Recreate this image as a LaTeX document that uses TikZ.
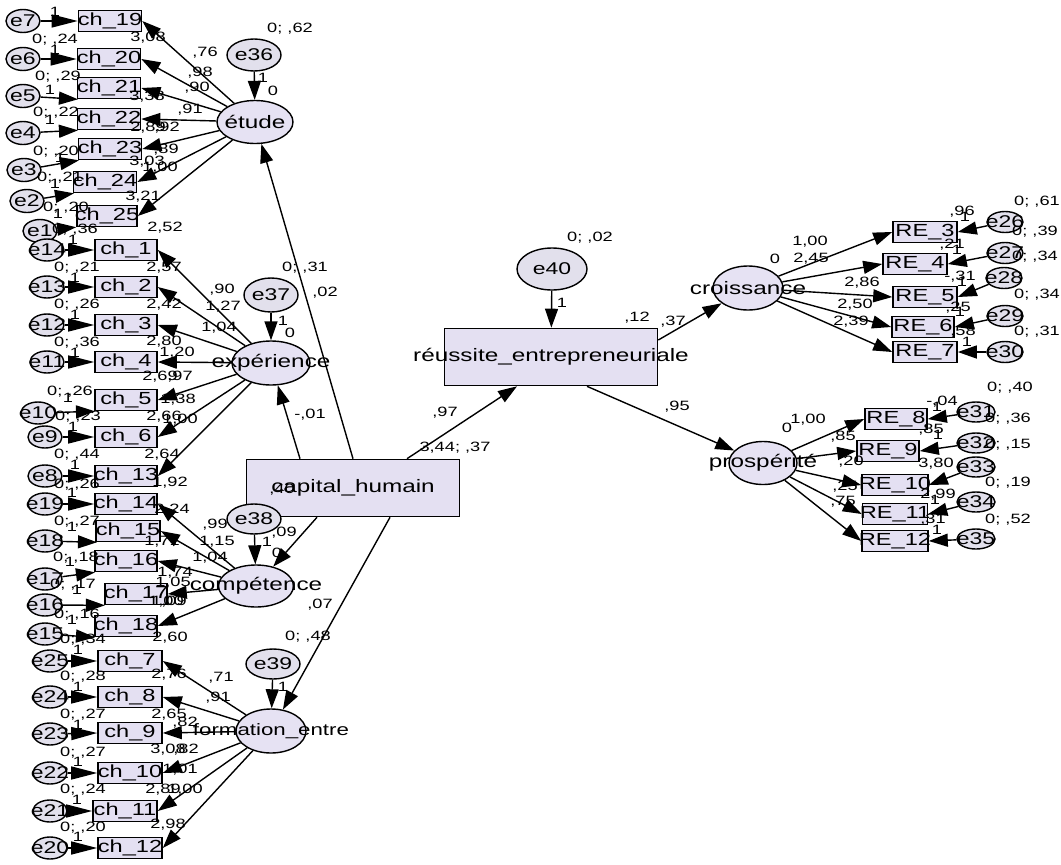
\documentclass[tikz,border=0pt]{standalone}
\usepackage{fontspec}
\setmainfont{Liberation Sans}[FakeStretch=1.35]
\usetikzlibrary{arrows.meta,shapes.geometric}
\definecolor{boxfill}{HTML}{E4E0F2}
\definecolor{latfill}{HTML}{E6E2F3}
\definecolor{errfill}{HTML}{E2E0EC}
\tikzset{
 obs/.style={draw, fill=boxfill, line width=1.6pt, inner sep=0pt, minimum height=21pt},
 lat/.style={draw, ellipse, fill=latfill, line width=1.4pt, inner sep=0pt},
 err/.style={draw, ellipse, fill=errfill, line width=1.4pt, inner sep=0pt},
 big/.style={inner sep=0pt, font=\fontsize{18}{20}\selectfont},
 chf/.style={inner sep=0pt, font=\fontsize{17.5}{19}\selectfont},
 ef/.style={inner sep=0pt, font=\fontsize{17}{18}\selectfont},
 sm/.style={inner sep=0pt, font=\fontsize{13.5}{15}\selectfont},
 arr/.style={line width=1.4pt, -{Triangle[length=19pt,width=13pt]}},
 earr/.style={line width=1.4pt, -{Triangle[length=26pt,width=13pt]}},
}
\newcounter{lbn}
\newcommand\mkobs[5]{\node[obs,minimum width=#4pt] (#1) at (#2,#3) {}; \node[chf] (#1t) at (#1) {#5};}
\newcommand\mklat[6]{\node[lat,minimum width=#4pt,minimum height=#5pt] (#1) at (#2,#3) {}; \node[big] (#1t) at (#1) {#6};}
\newcommand\mkerr[6]{\node[err,minimum width=#4pt,minimum height=#5pt] (#1) at (#2,#3) {}; \node[ef] (#1t) at (#1) {#6};}
\newcommand\mklab[3]{\stepcounter{lbn}\node[sm] (lb\arabic{lbn}) at (#1,#2) {#3};}
\begin{document}
\begin{tikzpicture}[x=1pt,y=-1pt]
\useasboundingbox (0,0) rectangle (1061,865);
\fill[white] (0,0) rectangle (1061,865);

% ---------- observed boxes, left
\mkobs{ch19}{110}{21}{63}{ch\_19}
\mkobs{ch20}{109}{59}{63}{ch\_20}
\mkobs{ch21}{109}{88}{63}{ch\_21}
\mkobs{ch22}{109}{119}{63}{ch\_22}
\mkobs{ch23}{110}{149}{63}{ch\_23}
\mkobs{ch24}{105}{182}{63}{ch\_24}
\mkobs{ch25}{107}{216}{60}{ch\_25}
\mkobs{ch1}{126}{250}{62}{ch\_1}
\mkobs{ch2}{126}{287}{62}{ch\_2}
\mkobs{ch3}{126}{325}{62}{ch\_3}
\mkobs{ch4}{126}{362}{62}{ch\_4}
\mkobs{ch5}{126}{400}{62}{ch\_5}
\mkobs{ch6}{126}{437}{62}{ch\_6}
\mkobs{ch13}{126}{476}{62}{ch\_13}
\mkobs{ch14}{126}{504}{62}{ch\_14}
\mkobs{ch15}{128}{531}{64}{ch\_15}
\mkobs{ch16}{126}{561}{62}{ch\_16}
\mkobs{ch17}{136}{594}{62}{ch\_17}
\mkobs{ch18}{126}{626}{62}{ch\_18}
\mkobs{ch7}{130}{661}{64}{ch\_7}
\mkobs{ch8}{130}{697}{64}{ch\_8}
\mkobs{ch9}{130}{733}{64}{ch\_9}
\mkobs{ch10}{130}{773}{64}{ch\_10}
\mkobs{ch11}{125}{811}{64}{ch\_11}
\mkobs{ch12}{130}{848}{64}{ch\_12}

% ---------- observed boxes, right
\mkobs{re3}{925}{232}{64}{RE\_3}
\mkobs{re4}{915}{264}{64}{RE\_4}
\mkobs{re5}{925}{297}{64}{RE\_5}
\mkobs{re6}{923}{327}{62}{RE\_6}
\mkobs{re7}{925}{352}{64}{RE\_7}
\mkobs{re8}{896}{419}{62}{RE\_8}
\mkobs{re9}{888}{451}{62}{RE\_9}
\mkobs{re10}{895}{485}{66}{RE\_10}
\mkobs{re11}{895}{514}{65}{RE\_11}
\mkobs{re12}{895}{541}{66}{RE\_12}

% ---------- central boxes
\node[obs,minimum width=213pt,minimum height=57pt] (cap) at (353,488) {};
\node[big] (capt) at (cap) {capital\_humain};
\node[obs,minimum width=213pt,minimum height=57pt] (reu) at (551,357) {};
\node[big] (reut) at (reu) {réussite\_entrepreneuriale};

% ---------- latent variables
\mklat{etude}{255}{122}{76}{43}{étude}
\mklat{exp}{271}{363}{78}{44}{expérience}
\mklat{comp}{256}{586}{75}{42}{compétence}
\node[lat,minimum width=70pt,minimum height=44pt] (form) at (271,731) {};
\node[big,font=\fontsize{16.5}{18}\selectfont] (formt) at (form) {formation\_entre};
\mklat{cro}{748}{288}{70}{44}{croissance}
\mklat{pro}{763}{463}{68}{43}{prospérité}

% ---------- big error terms
\mkerr{e36}{254}{55}{54}{32}{e36}
\mkerr{e37}{271}{295}{54}{34}{e37}
\mkerr{e38}{254}{519}{54}{30}{e38}
\mkerr{e39}{273}{664}{54}{30}{e39}
\mkerr{e40}{552}{269}{70}{42}{e40}

% ---------- small error terms left
\mkerr{e7}{23}{21}{34}{23}{e7}
\mkerr{e6}{23}{59}{34}{23}{e6}
\mkerr{e5}{23}{96}{34}{23}{e5}
\mkerr{e4}{23}{133}{34}{23}{e4}
\mkerr{e3}{24}{170}{34}{23}{e3}
\mkerr{e2}{27}{201}{34}{23}{e2}
\mkerr{e1}{40}{231}{34}{23}{e1}
\mkerr{e14}{47}{250}{34}{22}{e14}
\mkerr{e13}{47}{287}{34}{22}{e13}
\mkerr{e12}{47}{325}{34}{22}{e12}
\mkerr{e11}{47}{362}{34}{22}{e11}
\mkerr{e10}{38}{413}{34}{22}{e10}
\mkerr{e9}{45}{437}{34}{22}{e9}
\mkerr{e8}{45}{476}{34}{22}{e8}
\mkerr{e19}{45}{504}{34}{22}{e19}
\mkerr{e18}{45}{541}{34}{22}{e18}
\mkerr{e17}{45}{579}{34}{22}{e17}
\mkerr{e16}{45}{605}{34}{22}{e16}
\mkerr{e15}{45}{634}{34}{22}{e15}
\mkerr{e25}{50}{661}{34}{22}{e25}
\mkerr{e24}{50}{697}{34}{22}{e24}
\mkerr{e23}{50}{734}{34}{22}{e23}
\mkerr{e22}{50}{773}{34}{22}{e22}
\mkerr{e21}{50}{811}{34}{22}{e21}
\mkerr{e20}{50}{848}{34}{22}{e20}

% ---------- small error terms right
\mkerr{e26}{1005}{222}{36}{21}{e26}
\mkerr{e27}{1005}{253}{36}{21}{e27}
\mkerr{e28}{1004}{278}{36}{21}{e28}
\mkerr{e29}{1005}{316}{36}{21}{e29}
\mkerr{e30}{1005}{352}{36}{21}{e30}
\mkerr{e31}{976}{412}{38}{20}{e31}
\mkerr{e32}{976}{443}{38}{20}{e32}
\mkerr{e33}{976}{467}{38}{20}{e33}
\mkerr{e34}{976}{502}{38}{20}{e34}
\mkerr{e35}{976}{539}{38}{20}{e35}

% ---------- structural paths
\draw[arr] (cap.north) -- (etude);
\draw[arr] ([xshift=-53pt]cap.north) -- (exp);
\draw[arr] ([xshift=54pt]cap.north) -- ([xshift=-34pt]reu.south);
\draw[arr] ([xshift=-36pt]cap.south) -- (comp);
\draw[arr] ([xshift=37pt]cap.south) -- (form);
\draw[arr] ([yshift=17pt]reu.east) -- (cro);
\draw[arr] ([xshift=36pt]reu.south) -- (pro);
\foreach \a/\b in {e36/etude,e37/exp,e38/comp,e39/form,e40/reu}
  \draw[arr] (\a) -- (\b);

% ---------- loadings
\foreach \c in {ch19,ch20,ch21,ch22,ch23,ch24,ch25}
  \draw[arr] (etude) -- (\c.east);
\foreach \c in {ch1,ch2,ch3,ch4,ch5,ch6,ch13}
  \draw[arr] (exp) -- (\c.east);
\foreach \c in {ch14,ch15,ch16,ch17,ch18}
  \draw[arr] (comp) -- (\c.east);
\foreach \c in {ch7,ch8,ch9,ch10,ch11,ch12}
  \draw[arr] (form) -- (\c.east);
\foreach \c in {re3,re4,re5,re6,re7}
  \draw[arr] (cro) -- (\c.west);
\foreach \c in {re8,re9,re10,re11,re12}
  \draw[arr] (pro) -- (\c.west);

% ---------- error paths
\foreach \e/\c in {e7/ch19,e6/ch20,e14/ch1,e13/ch2,e12/ch3,e11/ch4,e9/ch6,e8/ch13,e19/ch14,e25/ch7,e24/ch8,e23/ch9,e22/ch10,e21/ch11,e20/ch12}
  \draw[earr] (\e) -- (\c.west);
\foreach \e/\c in {e5/ch21,e4/ch22,e3/ch23,e2/ch24,e1/ch25,e10/ch5,e18/ch15,e17/ch16,e16/ch17,e15/ch18}
  \draw[arr] (\e) -- (\c.200);
\foreach \e/\c in {e26/re3,e27/re4,e28/re5,e29/re6,e30/re7,e31/re8,e32/re9,e33/re10,e34/re11,e35/re12}
  \draw[arr] (\e) -- (\c.east);

% ---------- labels, upper left
\mklab{55}{12}{1}
\mklab{55}{40}{0; ,24}
\mklab{55}{50}{1}
\mklab{58}{77}{0; ,29}
\mklab{50}{90}{1}
\mklab{56}{113}{0; ,22}
\mklab{50}{120}{1}
\mklab{56}{152}{0; ,20}
\mklab{60}{158}{1}
\mklab{60}{178}{0; ,21}
\mklab{55}{184}{1}
\mklab{66}{208}{0; ,20}
\mklab{58}{214}{1}
\mklab{148}{38}{3,08}
\mklab{205}{53}{,76}
\mklab{200}{73}{,98}
\mklab{197}{88}{,90}
\mklab{147}{97}{3,38}
\mklab{190}{110}{,91}
\mklab{148}{128}{2,89}
\mklab{167}{128}{,92}
\mklab{166}{150}{,89}
\mklab{147}{162}{3,03}
\mklab{160}{168}{1,00}
\mklab{143}{197}{3,21}
\mklab{290}{29}{0; ,62}
\mklab{263}{78}{1}
\mklab{273}{91}{0}

% ---------- labels, lower left
\mklab{75}{230}{0; ,36}
\mklab{73}{240}{1}
\mklab{165}{228}{2,52}
\mklab{77}{268}{0; ,21}
\mklab{75}{278}{1}
\mklab{164}{268}{2,57}
\mklab{222}{290}{,90}
\mklab{223}{307}{1,27}
\mklab{77}{305}{0; ,26}
\mklab{75}{315}{1}
\mklab{164}{305}{2,42}
\mklab{219}{328}{1,04}
\mklab{77}{343}{0; ,36}
\mklab{75}{353}{1}
\mklab{164}{342}{2,80}
\mklab{177}{353}{1,20}
\mklab{160}{377}{2,69}
\mklab{180}{377}{,97}
\mklab{70}{392}{0; ,26}
\mklab{68}{398}{1}
\mklab{178}{400}{1,38}
\mklab{78}{417}{0; ,23}
\mklab{73}{427}{1}
\mklab{164}{417}{2,66}
\mklab{180}{420}{1,00}
\mklab{77}{455}{0; ,44}
\mklab{75}{465}{1}
\mklab{162}{455}{2,64}
\mklab{77}{485}{0; ,26}
\mklab{72}{493}{1}
\mklab{170}{483}{1,92}
\mklab{172}{510}{2,24}
\mklab{77}{522}{0; ,27}
\mklab{72}{527}{1}
\mklab{215}{525}{,99}
\mklab{217}{542}{1,15}
\mklab{162}{542}{1,71}
\mklab{76}{558}{0; ,18}
\mklab{70}{562}{1}
\mklab{210}{558}{1,04}
\mklab{175}{573}{1,74}
\mklab{173}{583}{1,05}
\mklab{73}{585}{0; ,17}
\mklab{77}{590}{1}
\mklab{166}{602}{1,00}
\mklab{169}{602}{1,09}
\mklab{77}{615}{0; ,16}
\mklab{72}{620}{1}
\mklab{83}{640}{0; ,34}
\mklab{78}{650}{1}
\mklab{170}{638}{2,60}
\mklab{83}{677}{0; ,28}
\mklab{78}{687}{1}
\mklab{169}{675}{2,76}
\mklab{221}{678}{,71}
\mklab{218}{698}{,91}
\mklab{83}{715}{0; ,27}
\mklab{78}{725}{1}
\mklab{169}{715}{2,65}
\mklab{185}{723}{,82}
\mklab{83}{753}{0; ,27}
\mklab{78}{762}{1}
\mklab{168}{750}{3,08}
\mklab{186}{750}{,82}
\mklab{180}{770}{1,01}
\mklab{83}{790}{0; ,24}
\mklab{77}{800}{1}
\mklab{163}{790}{2,89}
\mklab{185}{790}{1,00}
\mklab{83}{828}{0; ,20}
\mklab{78}{837}{1}
\mklab{168}{825}{2,98}

% ---------- labels, middle
\mklab{305}{268}{0; ,31}
\mklab{325}{293}{,02}
\mklab{283}{321}{1}
\mklab{290}{333}{0}
\mklab{310}{415}{-,01}
\mklab{282}{490}{,40}
\mklab{284}{533}{,09}
\mklab{267}{542}{1}
\mklab{277}{553}{0}
\mklab{320}{605}{,07}
\mklab{308}{637}{0; ,48}
\mklab{283}{687}{1}
\mklab{445}{413}{,97}
\mklab{455}{448}{3,44; ,37}
\mklab{590}{238}{0; ,02}
\mklab{562}{303}{1}
\mklab{637}{318}{,12}
\mklab{673}{322}{,37}
\mklab{677}{407}{,95}

% ---------- labels, right
\mklab{1037}{202}{0; ,61}
\mklab{1035}{232}{0; ,39}
\mklab{1035}{257}{0; ,34}
\mklab{1037}{295}{0; ,34}
\mklab{1037}{332}{0; ,31}
\mklab{962}{212}{,96}
\mklab{965}{217}{1}
\mklab{952}{245}{,21}
\mklab{957}{250}{1}
\mklab{960}{277}{-,31}
\mklab{962}{282}{1}
\mklab{958}{308}{,25}
\mklab{960}{312}{1}
\mklab{963}{332}{,58}
\mklab{967}{342}{1}
\mklab{810}{242}{1,00}
\mklab{775}{259}{0}
\mklab{811}{259}{2,45}
\mklab{862}{283}{2,86}
\mklab{855}{305}{2,50}
\mklab{851}{322}{2,39}
\mklab{1010}{388}{0; ,40}
\mklab{1008}{419}{0; ,36}
\mklab{1008}{445}{0; ,15}
\mklab{1008}{483}{0; ,19}
\mklab{1008}{520}{0; ,52}
\mklab{942}{402}{-,04}
\mklab{937}{407}{1}
\mklab{931}{430}{,85}
\mklab{938}{435}{1}
\mklab{936}{464}{3,80}
\mklab{938}{495}{2,99}
\mklab{935}{500}{1}
\mklab{933}{520}{,31}
\mklab{937}{530}{1}
\mklab{808}{420}{1,00}
\mklab{787}{428}{0}
\mklab{843}{437}{,85}
\mklab{851}{462}{,20}
\mklab{845}{487}{,25}
\mklab{843}{502}{,75}
\end{tikzpicture}
\end{document}
